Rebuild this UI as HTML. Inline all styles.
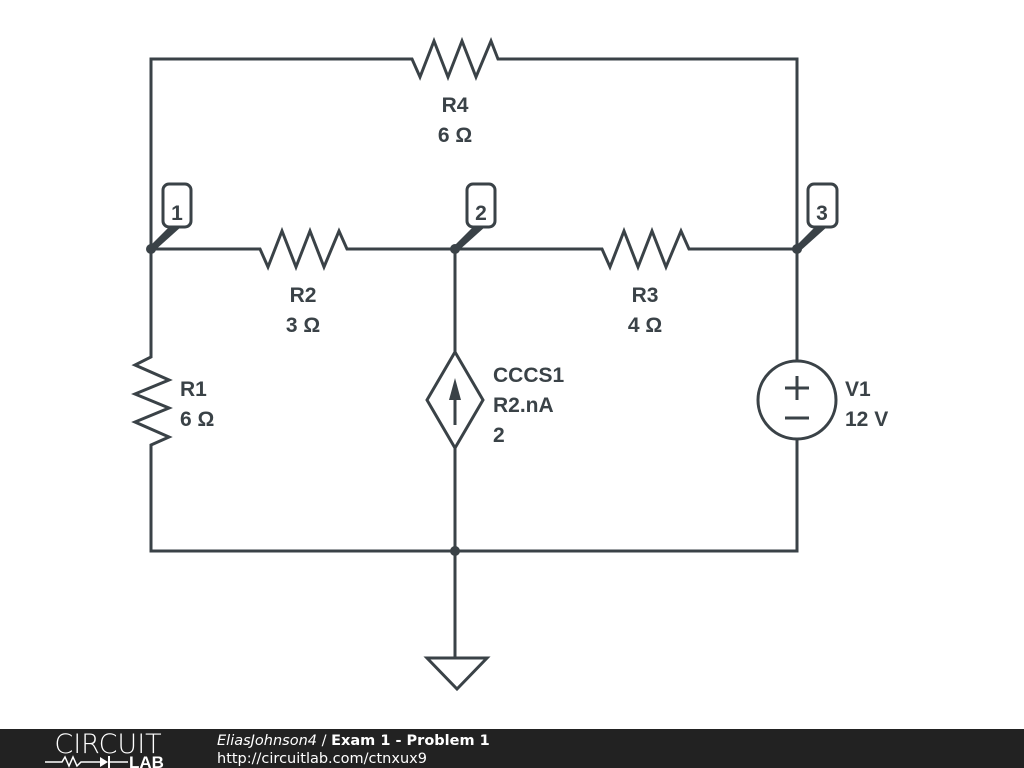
<!DOCTYPE html>
<html><head><style>
html,body{margin:0;padding:0;background:#fff;}
body{width:1024px;height:768px;overflow:hidden;position:relative;font-family:"Liberation Sans","DejaVu Sans",sans-serif;}
</style></head><body>
<svg width="1024" height="768" viewBox="0 0 1024 768" style="position:absolute;left:0;top:0">
<g fill="none" stroke="#3a4247" stroke-width="3" stroke-linejoin="miter">
<polyline points="151,249 151,59 412,59 420,77 434,41 448,77 462,41 476,77 491,41 498,59 797,59 797,249"/>
<polyline points="151,249 260,249 268,267 282,231 296,267 310,231 324,267 339,231 347,249 602,249 610,267 624,231 638,267 652,231 666,267 681,231 689,249 797,249"/>
<polyline points="151,249 151,357 135,365 169,380 135,394 169,408 135,422 169,437 151,445 151,551 797,551 797,439"/>
<line x1="797" y1="249" x2="797" y2="361"/>
<circle cx="797" cy="400" r="39"/>
<line x1="785" y1="388" x2="809" y2="388"/><line x1="797" y1="376" x2="797" y2="400"/>
<line x1="785" y1="418" x2="809" y2="418"/>
<line x1="455" y1="249" x2="455" y2="352"/>
<polygon points="455,352 483,400 455,448 427,400"/>
<line x1="455" y1="448" x2="455" y2="658"/>
<line x1="455" y1="425" x2="455" y2="395"/>
<polygon points="427,658 487,658 457,689"/>
<rect x="163" y="184" width="28" height="43" rx="6"/>
<rect x="467" y="184" width="28" height="43" rx="6"/>
<rect x="808" y="184" width="29" height="43" rx="6"/>
</g>
<g fill="#3a4247">
<polygon points="455,378 449,400 461,400"/>
<circle cx="151" cy="249" r="5"/><circle cx="455" cy="249" r="5"/><circle cx="797" cy="249" r="5"/><circle cx="455" cy="551" r="5"/>
<polygon points="149,247 170,226 182,226 153,252"/>
<polygon points="453,247 474,226 486,226 457,252"/>
<polygon points="795,247 816,226 828,226 799,252"/>
</g>
<g fill="#3a4247" font-family="Liberation Sans, sans-serif" font-weight="bold" font-size="21">
<text x="177" y="220" text-anchor="middle" font-size="21">1</text>
<text x="481" y="220" text-anchor="middle" font-size="21">2</text>
<text x="822" y="220" text-anchor="middle" font-size="21">3</text>
<text x="455" y="112" text-anchor="middle">R4</text>
<text x="455" y="142" text-anchor="middle">6 Ω</text>
<text x="303" y="302" text-anchor="middle">R2</text>
<text x="303" y="332" text-anchor="middle">3 Ω</text>
<text x="645" y="302" text-anchor="middle">R3</text>
<text x="645" y="332" text-anchor="middle">4 Ω</text>
<text x="180" y="396">R1</text>
<text x="180" y="426">6 Ω</text>
<text x="493" y="382">CCCS1</text>
<text x="493" y="412">R2.nA</text>
<text x="493" y="442">2</text>
<text x="845" y="396">V1</text>
<text x="845" y="426">12 V</text>
</g>
<rect x="0" y="729" width="1024" height="39" fill="#222"/>
<text x="108" y="753" fill="#fff" font-size="27" text-anchor="middle" font-family="DejaVu Sans, sans-serif" font-weight="200" letter-spacing="0">CIRCUIT</text>
<polyline points="45,762 62,762 65,757 69,766 73,757 77,766 81,762 100,762" fill="none" stroke="#fff" stroke-width="1.5"/>
<polygon points="100,757 108,762 100,767" fill="#fff"/>
<line x1="109" y1="756" x2="109" y2="768" stroke="#fff" stroke-width="2"/>
<line x1="109" y1="762" x2="128" y2="762" stroke="#fff" stroke-width="1.5"/>
<text x="129" y="768" fill="#fff" font-size="17" font-weight="bold" font-family="Liberation Sans, sans-serif">LAB</text>
<text x="217" y="745" fill="#fff" font-size="14.5" font-family="DejaVu Sans, sans-serif"><tspan font-style="italic">EliasJohnson4</tspan> / <tspan font-weight="bold">Exam 1 - Problem 1</tspan></text>
<text x="217" y="763" fill="#fff" font-size="14.5" font-family="DejaVu Sans, sans-serif">http://circuitlab.com/ctnxux9</text>
</svg>
</body></html>
